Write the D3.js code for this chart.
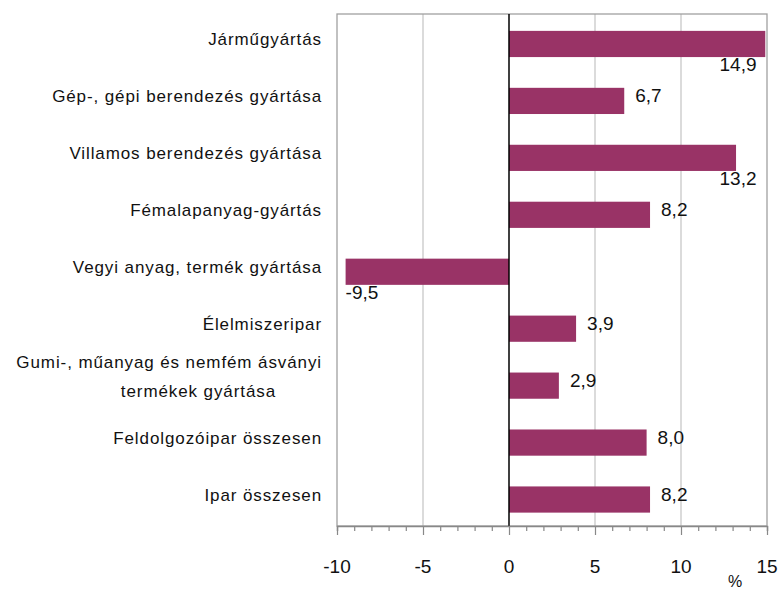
<!DOCTYPE html>
<html lang="hu">
<head>
<meta charset="UTF-8">
<title>Ipari termelés</title>
<script src="https://cdnjs.cloudflare.com/ajax/libs/d3/7.9.0/d3.min.js"></script>
<style>
  body { margin: 0; background: #fff; }
  svg text { font-family: "Liberation Sans", Arial, sans-serif; fill: #111; }
</style>
</head>
<body>
<div id="chart"></div>
<script>
const categories = [
  "Járműgyártás",
  "Gép-, gépi berendezés gyártása",
  "Villamos berendezés gyártása",
  "Fémalapanyag-gyártás",
  "Vegyi anyag, termék gyártása",
  "Élelmiszeripar",
  "Gumi-, műanyag és nemfém ásványi|termékek gyártása",
  "Feldolgozóipar összesen",
  "Ipar összesen"
];
const values = [14.9, 6.7, 13.2, 8.2, -9.5, 3.9, 2.9, 8.0, 8.2];
const xTicks = [-10, -5, 0, 5, 10, 15];
const unitLabel = "%";

const width = 779, height = 589;
const plot = { left: 337, right: 767, top: 14, bottom: 526 };

const svg = d3.select("#chart").append("svg")
  .attr("width", width)
  .attr("height", height);

const x = d3.scaleLinear().domain([-10, 15]).range([plot.left, plot.right]);
const y = d3.scaleBand().domain(categories).range([15.5, 528]).paddingInner(0.54).paddingOuter(0.27);

const fmt = v => v.toFixed(1).replace(".", ",");

// gridlines
svg.append("g")
  .selectAll("line")
  .data(xTicks.filter(t => t !== 0 && t !== -10 && t !== 15))
  .enter().append("line")
  .attr("x1", d => x(d)).attr("x2", d => x(d))
  .attr("y1", plot.top).attr("y2", plot.bottom)
  .attr("stroke", "#c8c8c8")
  .attr("stroke-width", 1.3);

// plot border
svg.append("rect")
  .attr("x", plot.left).attr("y", plot.top)
  .attr("width", plot.right - plot.left)
  .attr("height", plot.bottom - plot.top)
  .attr("fill", "none")
  .attr("stroke", "#a0a0a0")
  .attr("stroke-width", 1.3);

// bars
svg.append("g")
  .selectAll("rect")
  .data(values)
  .enter().append("rect")
  .attr("x", d => x(Math.min(0, d)))
  .attr("y", (d, i) => y(categories[i]))
  .attr("width", d => Math.abs(x(d) - x(0)))
  .attr("height", y.bandwidth())
  .attr("fill", "#993366");

// zero line
svg.append("line")
  .attr("x1", x(0)).attr("x2", x(0))
  .attr("y1", plot.top).attr("y2", plot.bottom)
  .attr("stroke", "#000")
  .attr("stroke-width", 1.5);

// bottom axis with minor ticks
const axis = svg.append("g")
  .attr("transform", `translate(0,${plot.bottom})`)
  .call(d3.axisBottom(x).tickValues(d3.range(-10, 16, 1)).tickSize(5).tickFormat(""));
axis.select(".domain").attr("stroke", "#888").attr("stroke-width", 1.5);
axis.selectAll(".tick line").attr("stroke", "#888").attr("stroke-width", 1.2);
axis.selectAll(".tick").filter(d => d % 5 === 0).select("line").attr("y2", 9);

svg.append("g")
  .selectAll("text")
  .data(xTicks)
  .enter().append("text")
  .attr("x", d => x(d))
  .attr("y", 573)
  .attr("text-anchor", "middle")
  .style("font-size", "19px")
  .text(d => d);

svg.append("text")
  .attr("x", 735)
  .attr("y", 587)
  .attr("text-anchor", "middle")
  .style("font-size", "16px")
  .text(unitLabel);

// category labels
const cat = svg.append("g")
  .selectAll("text")
  .data(categories)
  .enter().append("text")
  .attr("text-anchor", "end")
  .style("font-size", "17px")
  .style("letter-spacing", "0.9px");

cat.each(function (d) {
  const c = y(d) + y.bandwidth() / 2;
  const lines = d.split("|");
  const t = d3.select(this);
  if (lines.length === 1) {
    t.attr("x", 322).attr("y", c + 1).text(d);
  } else {
    t.append("tspan").attr("x", 322).attr("y", c - 17.5).text(lines[0]);
    t.append("tspan").attr("x", 276).attr("y", c + 11.5).text(lines[1]);
  }
});

// value labels
svg.append("g")
  .selectAll("text")
  .data(values)
  .enter().append("text")
  .style("font-size", "19px")
  .each(function (d, i) {
    const t = d3.select(this);
    const top = y(categories[i]);
    const c = top + y.bandwidth() / 2;
    if (d < 0) {
      t.attr("x", x(d)).attr("y", top + y.bandwidth() + 14).attr("text-anchor", "start");
    } else if (d > 12) {
      t.attr("x", Math.min(x(d) + 8, 738)).attr("y", top + y.bandwidth() + 14).attr("text-anchor", "middle");
    } else {
      t.attr("x", x(d) + 11).attr("y", c + 1.5).attr("text-anchor", "start");
    }
    t.text(fmt(d));
  });
</script>
</body>
</html>
